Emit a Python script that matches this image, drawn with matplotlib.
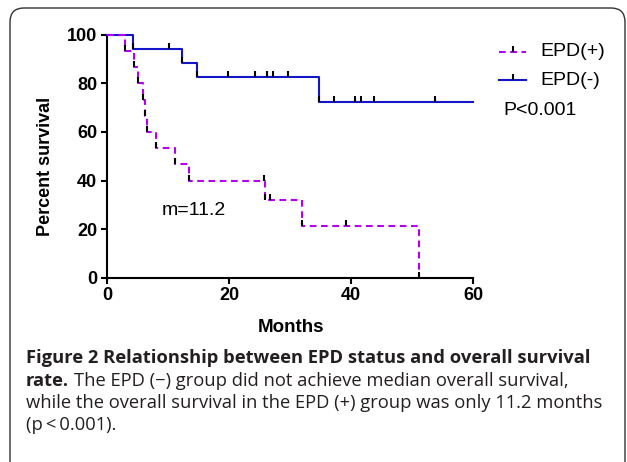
import matplotlib
matplotlib.use('Agg')
import matplotlib.pyplot as plt
from matplotlib.patches import FancyBboxPatch

# Kaplan-Meier steps (months, percent survival)
pos_times = [0, 2.9, 4.5, 5.1, 5.9, 6.3, 6.6, 8.1, 11.1, 13.4, 25.9, 32.0, 51.2]
pos_surv = [100, 93.3, 86.7, 80.0, 73.3, 66.7, 60.0, 53.3, 46.7, 40.0, 32.0, 21.3, 0]
pos_mark_t = [2.9, 4.5, 5.1, 5.9, 6.3, 6.6, 8.1, 11.1, 13.4, 25.7, 25.9, 26.8, 32.0, 39.1, 51.2]
pos_mark_s = [93.3, 86.7, 80.0, 73.3, 66.7, 60.0, 53.3, 46.7, 40.0, 40.0, 32.0, 32.0, 21.3, 21.3, 0]

neg_times = [0, 4.2, 12.3, 14.7, 34.7, 60]
neg_surv = [100, 94.1, 88.2, 82.4, 72.1, 72.1]
neg_mark_t = [4.2, 10.1, 12.3, 14.7, 19.9, 24.3, 26.2, 27.2, 29.7, 34.7, 37.2, 40.6, 41.6, 43.7, 53.7]
neg_mark_s = [94.1, 94.1, 88.2, 82.4, 82.4, 82.4, 82.4, 82.4, 82.4, 72.1, 72.1, 72.1, 72.1, 72.1, 72.1]

xticks = [0, 20, 40, 60]
yticks = [0, 20, 40, 60, 80, 100]
labels = ['EPD(+)', 'EPD(-)']

W, H = 627, 462
fig = plt.figure(figsize=(W / 100, H / 100), dpi=100)

# background layer in pixel coordinates (border, legend, caption)
bg = fig.add_axes([0, 0, 1, 1], zorder=-1)
bg.set_xlim(0, W)
bg.set_ylim(H, 0)
bg.axis('off')
bg.add_patch(FancyBboxPatch((10, 8), 615, 480, boxstyle='round,pad=0,rounding_size=14',
                            fc='none', ec='#333333', lw=1.0))

purple = '#b300f0'
blue = '#1414c8'
dash = (0, (3.2, 2.2))

# plot axes
ax = fig.add_axes([107 / W, 1 - 277.7 / H, 366 / W, 243 / H])
ax.plot(neg_times, neg_surv, drawstyle='steps-post', color=blue, lw=1.5, clip_on=False, zorder=3)
ax.plot(pos_times, pos_surv, drawstyle='steps-post', color=purple, lw=1.5,
        linestyle=dash, clip_on=False, zorder=4)
ax.plot(neg_mark_t, neg_mark_s, linestyle='none', marker=2, ms=4.5, mew=1.5, color='black',
        clip_on=False, zorder=5)
ax.plot(pos_mark_t, pos_mark_s, linestyle='none', marker=2, ms=4.5, mew=1.5, color='black',
        clip_on=False, zorder=5)

ax.set_xlim(0, 60)
ax.set_ylim(0, 100)
ax.set_xticks(xticks)
ax.set_yticks(yticks)
for s in ['top', 'right']:
    ax.spines[s].set_visible(False)
for s in ['left', 'bottom']:
    ax.spines[s].set_linewidth(1.5)
ax.tick_params(length=4, width=1.5, pad=3)
for lab in ax.get_xticklabels() + ax.get_yticklabels():
    lab.set_fontfamily('Liberation Sans')
    lab.set_fontweight('bold')
    lab.set_fontsize(13)

fig.text(45 / W, 1 - 166 / H, 'Percent survival', rotation=90, ha='center', va='center',
         family='Liberation Sans', weight='bold', fontsize=13)
fig.text(291 / W, 1 - 327 / H, 'Months', ha='center', va='center',
         family='Liberation Sans', weight='bold', fontsize=13.5)
ax.text(9.0, 27.5, 'm=11.2', ha='left', va='center', family='Liberation Sans', fontsize=14)

# legend, drawn by hand
for i, (lab, col, ls) in enumerate(zip(labels, [purple, blue], [dash, '-'])):
    yy = 51.7 + i * 28.5
    bg.plot([499, 526], [yy, yy], color=col, lw=1.5, linestyle=ls)
    bg.plot([512.5], [yy], linestyle='none', marker=2, ms=4.5, mew=1.5, color='black')
    bg.text(540, yy, lab, ha='left', va='center', family='Liberation Sans', fontsize=14)
bg.text(503, 110.7, 'P<0.001', ha='left', va='center', family='Liberation Sans', fontsize=14)

# caption
cap_font = 'Open Sans'
cap_size = 13.2
cap_col = '#231f20'
bg.text(26, 358, 'Figure 2 Relationship between EPD status and overall survival', ha='left', va='center',
        family=cap_font, weight='bold', fontsize=cap_size, color=cap_col)
t = bg.text(26, 381, 'rate.', ha='left', va='center', family=cap_font, weight='bold',
            fontsize=cap_size, color=cap_col)
fig.canvas.draw()
x_end = t.get_window_extent().x1
bg.text(x_end + 5, 381, 'The EPD (\u2212) group did not achieve median overall survival,', ha='left',
        va='center', family=cap_font, fontsize=cap_size, color=cap_col)
bg.text(26, 403, 'while the overall survival in the EPD (+) group was only 11.2 months', ha='left',
        va='center', family=cap_font, fontsize=cap_size, color=cap_col)
bg.text(26, 425, '(p\u2009<\u20090.001).', ha='left', va='center', family=cap_font, fontsize=cap_size,
        color=cap_col)

fig.savefig('out.png', dpi=100)
